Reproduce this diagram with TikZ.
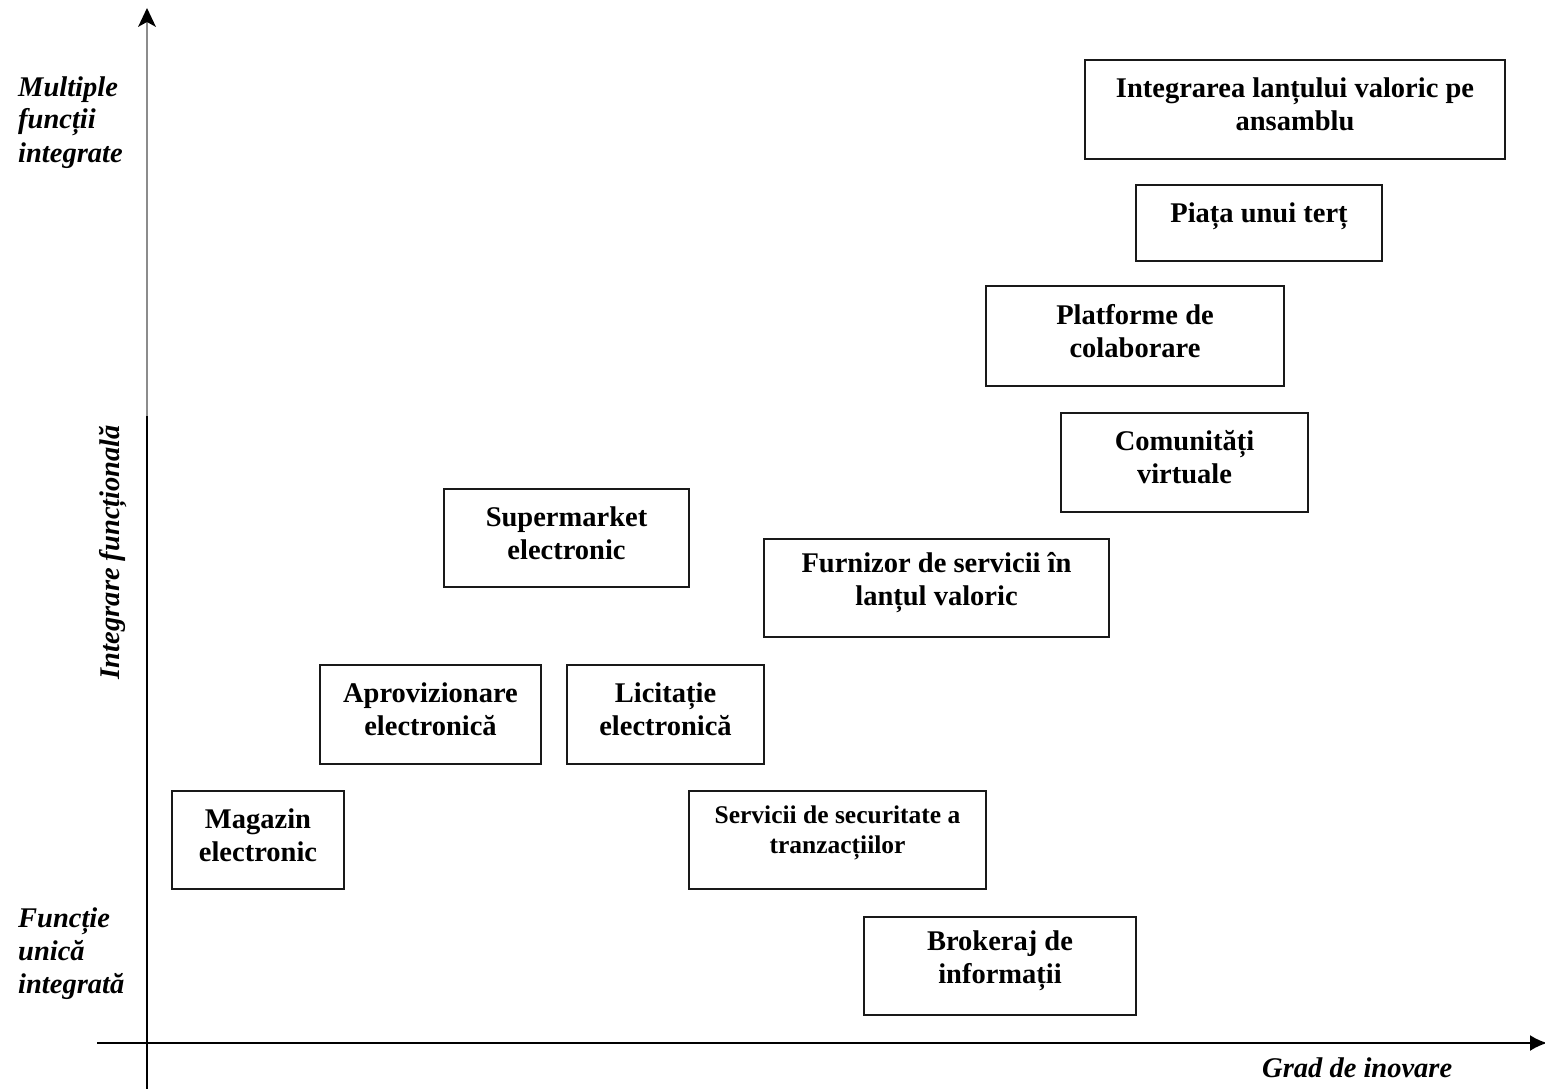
\documentclass[tikz,border=0pt]{standalone}
\usepackage{fontspec}
\setmainfont{Liberation Serif}
\usetikzlibrary{arrows.meta}
\begin{document}
\begin{tikzpicture}[x=1pt,y=-1pt,
  box/.style={draw=black!90,line width=2pt,inner sep=0pt,outer sep=0pt},
  lbl/.style={align=center,font=\bfseries\fontsize{28.5}{33}\selectfont,inner sep=0pt},
  lblsmall/.style={align=center,font=\bfseries\fontsize{25.5}{30}\selectfont,inner sep=0pt},
  axlbl/.style={align=left,font=\bfseries\itshape\fontsize{28.5}{33}\selectfont,inner sep=0pt},
  axis/.style={line width=2pt,-{Latex[length=17pt,width=16pt]}}]
\useasboundingbox (0,0) rectangle (1545,1089);
\fill[white] (0,0) rectangle (1545,1089);

% axes
\coordinate (ybot) at (147,1089);
\coordinate (ymid) at (147,416);
\coordinate (ytop) at (147,22);
\coordinate (xleft) at (97,1043);
\coordinate (xright) at (1547,1043);
\draw[line width=2pt] (ybot) -- (ymid);
\draw[line width=2pt,draw=black!45] (ymid) -- (ytop);
\fill[black] (147,8) -- (138,27) -- (147,22) -- (156,27) -- cycle;
\draw[axis] (xleft) -- (xright);

% axis labels (anchored on the baseline of the last line)
\node[axlbl,anchor=base west] (hi) at (18,162) {Multiple\\funcții\\integrate};
\node[axlbl,anchor=base west] (lo) at (18,993) {Funcție\\unică\\integrată};
\node[axlbl,anchor=base west] (xl) at (1262,1077) {Grad de inovare};
\node[axlbl,rotate=90,anchor=base] (yl) at (119,552) {Integrare funcțională};

% boxes
\node[box,minimum width=420,minimum height=99] (b1) at (1295,109.5) {};
\node[box,minimum width=246,minimum height=76] (b2) at (1259,223) {};
\node[box,minimum width=298,minimum height=100] (b3) at (1135,336) {};
\node[box,minimum width=247,minimum height=99] (b4) at (1184.5,462.5) {};
\node[box,minimum width=245,minimum height=98] (b5) at (566.5,538) {};
\node[box,minimum width=345,minimum height=98] (b6) at (936.5,588) {};
\node[box,minimum width=221,minimum height=99] (b7) at (430.5,714.5) {};
\node[box,minimum width=197,minimum height=99] (b8) at (665.5,714.5) {};
\node[box,minimum width=172,minimum height=98] (b9) at (258,840) {};
\node[box,minimum width=297,minimum height=98] (b10) at (837.5,840) {};
\node[box,minimum width=272,minimum height=98] (b11) at (1000,966) {};

% box texts
\node[lbl] (t1) at ([yshift=5]b1.center) {Integrarea lanțului valoric pe\\ansamblu};
\node[lbl] (t2) at ([yshift=7]b2.center) {Piața unui terț};
\node[lbl] (t3) at ([yshift=5]b3.center) {Platforme de\\colaborare};
\node[lbl] (t4) at ([yshift=5]b4.center) {Comunități\\virtuale};
\node[lbl] (t5) at ([yshift=5]b5.center) {Supermarket\\electronic};
\node[lbl] (t6) at ([yshift=5]b6.center) {Furnizor de servicii în\\lanțul valoric};
\node[lbl] (t7) at ([yshift=5]b7.center) {Aprovizionare\\electronică};
\node[lbl] (t8) at ([yshift=5]b8.center) {Licitație\\electronică};
\node[lbl] (t9) at ([yshift=5]b9.center) {Magazin\\electronic};
\node[lblsmall] (t10) at ([yshift=7]b10.center) {Servicii de securitate a\\tranzacțiilor};
\node[lbl] (t11) at ([yshift=5]b11.center) {Brokeraj de\\informații};
\end{tikzpicture}
\end{document}
